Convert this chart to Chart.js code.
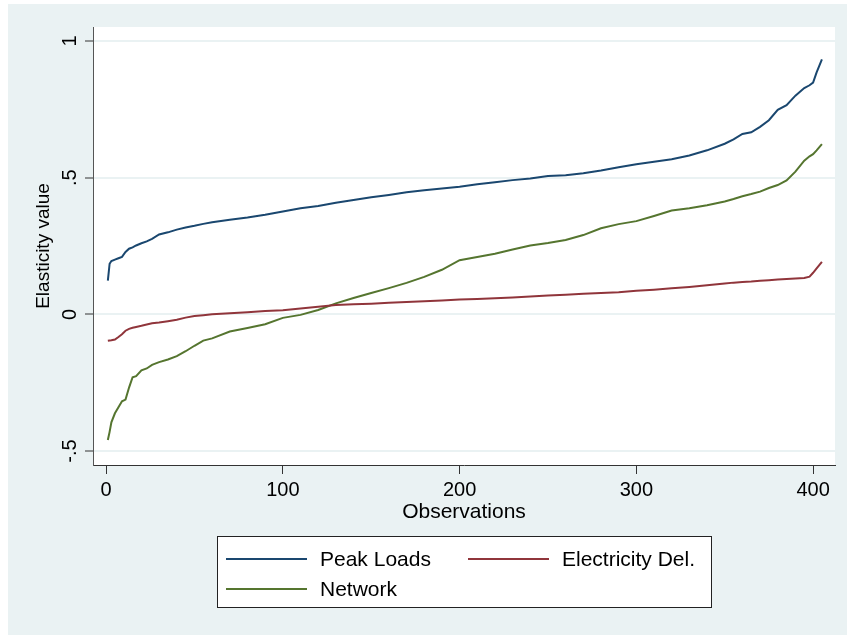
<!DOCTYPE html>
<html>
<head>
<meta charset="utf-8">
<title>Elasticity values</title>
<script src="https://cdn.jsdelivr.net/npm/chart.js@4.4.0/dist/chart.umd.min.js"></script>
<style>
  html, body { margin: 0; padding: 0; background: #ffffff; }
  #wrap { position: absolute; left: 8px; top: 4px; width: 839px; height: 631px; background: #eaf2f3; }
</style>
</head>
<body>
<div id="wrap"><canvas id="elasticityChart" width="839" height="631"></canvas></div>
<script>
// ------------------ DATA ------------------
const observations = [1, 2, 3, 5, 7, 9, 11, 13, 15, 17, 20, 23, 26, 30, 35, 40, 45, 50, 55, 60,
  70, 80, 90, 100, 110, 120, 130, 140, 150, 160, 170, 180, 190, 200, 210, 220, 230, 240, 250,
  260, 270, 280, 290, 300, 310, 320, 330, 340, 350, 355, 360, 365, 370, 375, 380, 385, 390,
  395, 398, 400, 402, 405];

const peakLoads = [0.123, 0.185, 0.195, 0.200, 0.205, 0.210, 0.228, 0.240, 0.245, 0.252, 0.260,
  0.267, 0.276, 0.292, 0.300, 0.310, 0.318, 0.324, 0.331, 0.337, 0.346, 0.354, 0.364, 0.376,
  0.388, 0.396, 0.408, 0.418, 0.428, 0.437, 0.447, 0.454, 0.460, 0.467, 0.476, 0.483, 0.491,
  0.497, 0.506, 0.509, 0.516, 0.526, 0.538, 0.549, 0.558, 0.567, 0.581, 0.600, 0.624, 0.640,
  0.660, 0.666, 0.686, 0.710, 0.748, 0.765, 0.800, 0.828, 0.838, 0.848, 0.885, 0.933];

const electricityDel = [-0.097, -0.096, -0.095, -0.092, -0.083, -0.073, -0.060, -0.053, -0.049,
  -0.046, -0.042, -0.037, -0.033, -0.030, -0.025, -0.020, -0.012, -0.006, -0.003, 0.000, 0.004,
  0.008, 0.012, 0.015, 0.021, 0.028, 0.034, 0.037, 0.039, 0.042, 0.045, 0.048, 0.051, 0.054,
  0.056, 0.059, 0.062, 0.065, 0.069, 0.072, 0.075, 0.078, 0.081, 0.086, 0.090, 0.095, 0.100,
  0.106, 0.113, 0.116, 0.118, 0.120, 0.123, 0.125, 0.127, 0.129, 0.131, 0.133, 0.138, 0.152,
  0.168, 0.192];

const network = [-0.460, -0.430, -0.395, -0.362, -0.340, -0.318, -0.312, -0.268, -0.230, -0.226,
  -0.205, -0.198, -0.185, -0.175, -0.165, -0.153, -0.135, -0.115, -0.096, -0.088, -0.063, -0.050,
  -0.036, -0.013, -0.002, 0.016, 0.040, 0.060, 0.078, 0.096, 0.115, 0.137, 0.163, 0.198, 0.210,
  0.222, 0.237, 0.252, 0.261, 0.272, 0.290, 0.315, 0.330, 0.341, 0.360, 0.380, 0.388, 0.399,
  0.413, 0.422, 0.432, 0.440, 0.449, 0.462, 0.473, 0.490, 0.522, 0.562, 0.578, 0.586, 0.600,
  0.623];

const seriesNames = ["Peak Loads", "Electricity Del.", "Network"];
const xTicks = [0, 100, 200, 300, 400];
const xTickLabels = ["0", "100", "200", "300", "400"];
const yTicks = [-0.5, 0, 0.5, 1];
const yTickLabels = ["-.5", "0", ".5", "1"];

// ------------------ STYLE ------------------
const FONT = "'Liberation Sans', Arial, Helvetica, sans-serif";
const colors = ["#1a476f", "#90353b", "#55752f"];

function toPoints(values) {
  return observations.map((obs, i) => ({ x: obs, y: values[i] }));
}

// white plot region, like Stata's plotregion
const plotBackground = {
  id: "plotBackground",
  beforeDraw(chart) {
    const { ctx, chartArea: a } = chart;
    ctx.save();
    ctx.fillStyle = "#ffffff";
    ctx.fillRect(a.left, a.top, a.right - a.left, a.bottom - a.top);
    ctx.restore();
  }
};

// boxed legend in two columns, built from the datasets
const boxedLegend = {
  id: "boxedLegend",
  afterDraw(chart) {
    const c = chart.ctx;
    const box = { x: 209, y: 532, w: 494, h: 71 };
    c.save();
    c.fillStyle = "#ffffff";
    c.fillRect(box.x, box.y, box.w, box.h);
    c.strokeStyle = "#222222";
    c.lineWidth = 1;
    c.strokeRect(box.x + 0.5, box.y + 0.5, box.w, box.h);
    c.font = "21px " + FONT;
    c.textBaseline = "middle";
    c.textAlign = "left";
    chart.data.datasets.forEach((ds, i) => {
      const col = i % 2;
      const row = Math.floor(i / 2);
      const lx = box.x + 9 + col * 242;
      const ly = box.y + 23 + row * 30;
      c.strokeStyle = ds.borderColor;
      c.lineWidth = 2;
      c.beginPath();
      c.moveTo(lx, ly);
      c.lineTo(lx + 81, ly);
      c.stroke();
      c.fillStyle = "#000000";
      c.fillText(ds.label, lx + 94, ly + 1);
    });
    c.restore();
  }
};

// ------------------ CHART ------------------
const ctx = document.getElementById("elasticityChart").getContext("2d");
new Chart(ctx, {
  type: "line",
  data: {
    datasets: [peakLoads, electricityDel, network].map((vals, i) => ({
      label: seriesNames[i],
      data: toPoints(vals),
      borderColor: colors[i],
      backgroundColor: colors[i],
      borderWidth: 2,
      pointRadius: 0,
      tension: 0,
      fill: false
    }))
  },
  options: {
    responsive: false,
    animation: false,
    events: [],
    layout: { padding: { left: 0, top: 23, right: 12, bottom: 110 } },
    plugins: {
      legend: { display: false },
      tooltip: { enabled: false }
    },
    scales: {
      x: {
        type: "linear",
        min: -7.4,
        max: 412.4,
        afterBuildTicks: (scale) => { scale.ticks = xTicks.map(v => ({ value: v })); },
        afterFit: (scale) => { scale.height = 60; },
        grid: { drawOnChartArea: false, drawTicks: true, tickLength: 9, tickColor: "#333333", tickWidth: 1 },
        border: { color: "#333333", width: 1 },
        ticks: {
          autoSkip: false, maxRotation: 0, padding: 4, color: "#000000",
          font: { family: FONT, size: 20 },
          callback: (v, i) => xTickLabels[i]
        },
        title: {
          display: true, text: "Observations", color: "#000000",
          font: { family: FONT, size: 21 }, padding: { top: 0, bottom: 0 }
        }
      },
      y: {
        type: "linear",
        min: -0.5512,
        max: 1.0512,
        afterBuildTicks: (scale) => { scale.ticks = yTicks.map(v => ({ value: v })); },
        afterFit: (scale) => { scale.width = 85; },
        grid: { color: "#eaf2f3", lineWidth: 2, drawTicks: true, tickLength: 8, tickColor: "#333333", tickWidth: 1 },
        border: { color: "#555555", width: 1 },
        ticks: {
          autoSkip: false, minRotation: 90, maxRotation: 90, crossAlign: "center",
          padding: 3, color: "#000000",
          font: { family: FONT, size: 20 },
          callback: (v, i) => yTickLabels[i]
        },
        title: {
          display: true, text: "Elasticity value", color: "#000000",
          font: { family: FONT, size: 19 }, padding: { top: 24, bottom: 0 }
        }
      }
    }
  },
  plugins: [plotBackground, boxedLegend]
});
</script>
</body>
</html>
